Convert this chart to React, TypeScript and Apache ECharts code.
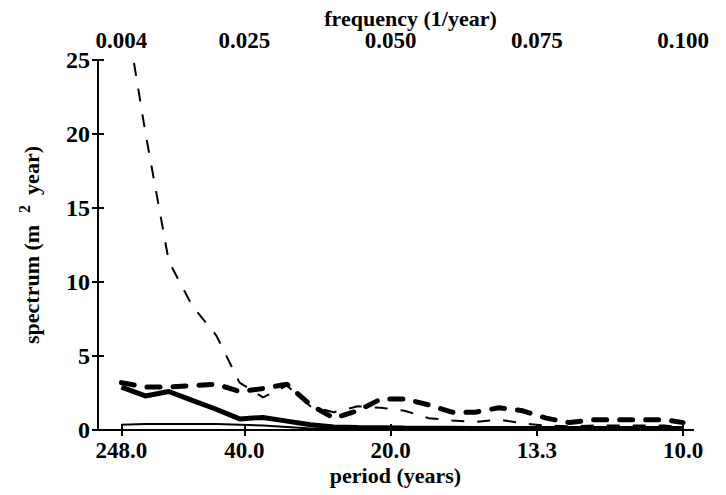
import React, { useEffect, useRef } from "react";
import * as echarts from "echarts";

// frequency grid (1/year)
const freq = [
  0.004, 0.0081, 0.0121, 0.0161, 0.0202, 0.0242, 0.0282, 0.0323, 0.0363, 0.0403,
  0.0444, 0.0484, 0.0524, 0.0565, 0.0605, 0.0645, 0.0685, 0.0726, 0.0766, 0.0806,
  0.0847, 0.0887, 0.0927, 0.0968, 0.1,
];

// thin dashed
const thinDashed = [
  30, 20.1, 11.4, 8.4, 6.4, 3.2, 2.2, 3.0, 1.6, 1.2,
  1.6, 1.5, 1.3, 0.8, 0.65, 0.55, 0.7, 0.45, 0.3, 0.25,
  0.3, 0.3, 0.3, 0.3, 0.2,
];
// thick dashed
const thickDashed = [
  3.2, 2.9, 2.9, 3.0, 3.1, 2.6, 2.8, 3.1, 1.7, 0.8,
  1.3, 2.1, 2.1, 1.7, 1.2, 1.2, 1.5, 1.3, 0.8, 0.5,
  0.7, 0.7, 0.7, 0.7, 0.5,
];
// thick solid
const thickSolid = [
  2.9, 2.3, 2.6, 2.0, 1.4, 0.75, 0.85, 0.6, 0.35, 0.2,
  0.17, 0.15, 0.13, 0.12, 0.11, 0.1, 0.1, 0.1, 0.1, 0.1,
  0.1, 0.1, 0.1, 0.1, 0.1,
];
// thin solid
const thinSolid = [
  0.35, 0.4, 0.4, 0.4, 0.4, 0.35, 0.3, 0.2, 0.1, 0.05,
  0.05, 0.05, 0.05, 0.05, 0.05, 0.05, 0.05, 0.05, 0.05, 0.05,
  0.05, 0.05, 0.05, 0.05, 0.05,
];

// tick positions and labels
const freqTicks = [0.004, 0.025, 0.05, 0.075, 0.1];
const freqLabels = ["0.004", "0.025", "0.050", "0.075", "0.100"];
const periodLabels = ["248.0", "40.0", "20.0", "13.3", "10.0"];

const FONT = "Liberation Serif";

function pair(ys: number[]) {
  return freq.map((f, i) => [f, ys[i]]);
}

function labelFor(list: string[]) {
  return (v: number) => {
    let best = 0;
    for (let i = 1; i < freqTicks.length; i++) {
      if (Math.abs(freqTicks[i] - v) < Math.abs(freqTicks[best] - v)) best = i;
    }
    return list[best];
  };
}

export default function App() {
  const ref = useRef<HTMLDivElement>(null);
  useEffect(() => {
    if (!ref.current) return;
    document.body.style.margin = "0";
    const chart = echarts.init(ref.current, null, { renderer: "svg" });
    const lineAxis = { show: true, lineStyle: { color: "#000", width: 2 } };
    const xBase = {
      type: "value" as const,
      min: 0,
      max: 0.1017,
      splitLine: { show: false },
      axisLine: lineAxis,
      nameMoveOverlap: false,
      axisTick: {
        show: true,
        inside: true,
        length: 6,
        customValues: freqTicks,
        lineStyle: { color: "#000", width: 2 },
      },
    };
    const yBase = {
      type: "value" as const,
      min: 0,
      max: 25,
      interval: 5,
      splitLine: { show: false },
      axisLine: lineAxis,
      nameMoveOverlap: false,
      axisTick: {
        show: true,
        inside: true,
        length: 6,
        lineStyle: { color: "#000", width: 2 },
      },
    };
    chart.setOption({
      animation: false,
      backgroundColor: "#fff",
      textStyle: { fontFamily: FONT, color: "#000" },
      grid: {
        left: 98,
        right: 33,
        top: 60,
        bottom: 65,
        containLabel: false,
        outerBoundsMode: "none",
      },
      xAxis: [
        {
          ...xBase,
          position: "bottom",
          name: "period (years)",
          nameLocation: "middle",
          nameGap: 34,
          nameTextStyle: { fontFamily: FONT, fontWeight: "bold", fontSize: 22, color: "#000" },
          axisLabel: {
            customValues: freqTicks,
            formatter: labelFor(periodLabels),
            fontFamily: FONT,
            fontWeight: "bold",
            fontSize: 23,
            color: "#000",
            margin: 9,
          },
        },
        {
          ...xBase,
          position: "top",
          name: "frequency (1/year)",
          nameLocation: "middle",
          nameGap: 31,
          nameTextStyle: {
            fontFamily: FONT,
            fontWeight: "bold",
            fontSize: 22,
            color: "#000",
            padding: [0, 0, 0, 30],
          },
          axisLabel: {
            customValues: freqTicks,
            formatter: labelFor(freqLabels),
            fontFamily: FONT,
            fontWeight: "bold",
            fontSize: 23,
            color: "#000",
            margin: 8,
          },
        },
      ],
      yAxis: [
        {
          ...yBase,
          position: "left",
          name: "{a|spectrum (m}{s|2}{a|year)}",
          nameLocation: "middle",
          nameGap: 56,
          nameRotate: 90,
          nameTextStyle: {
            rich: {
              a: {
                fontFamily: FONT,
                fontWeight: "bold",
                fontSize: 22,
                color: "#000",
                lineHeight: 26,
                verticalAlign: "bottom",
              },
              s: {
                fontFamily: FONT,
                fontWeight: "bold",
                fontSize: 16,
                color: "#000",
                lineHeight: 14,
                verticalAlign: "top",
                padding: [0, 10, 0, 12],
              },
            },
          },
          axisLabel: {
            fontFamily: FONT,
            fontWeight: "bold",
            fontSize: 24,
            color: "#000",
            margin: 8,
          },
        },
        {
          ...yBase,
          position: "right",
          axisLabel: { show: false },
        },
      ],
      series: [
        {
          type: "line",
          data: pair(thinSolid),
          showSymbol: false,
          lineStyle: { color: "#000", width: 2 },
        },
        {
          type: "line",
          data: pair(thickSolid),
          showSymbol: false,
          lineStyle: { color: "#000", width: 5 },
        },
        {
          type: "line",
          data: pair(thinDashed),
          showSymbol: false,
          lineStyle: { color: "#000", width: 2, type: [13, 13] },
        },
        {
          type: "line",
          data: pair(thickDashed),
          showSymbol: false,
          lineStyle: { color: "#000", width: 5, type: [13, 13], cap: "round" },
        },
      ],
    });
    return () => chart.dispose();
  }, []);
  return <div ref={ref} style={{ width: 726, height: 495 }} />;
}
